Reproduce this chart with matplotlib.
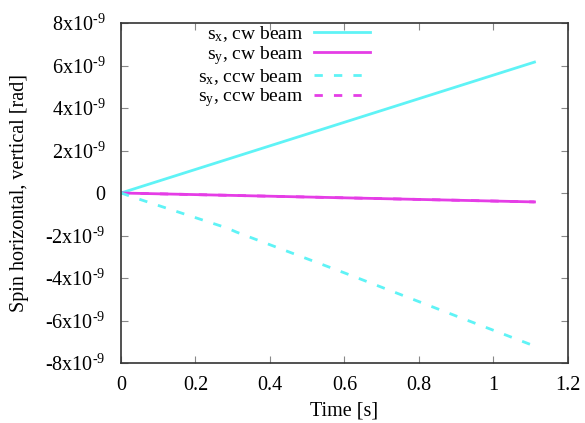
import matplotlib
matplotlib.use("Agg")
import matplotlib.pyplot as plt
from matplotlib.ticker import FuncFormatter

plt.rcParams['font.family'] = ['Liberation Serif', 'DejaVu Serif']
plt.rcParams['mathtext.fontset'] = 'custom'
plt.rcParams['mathtext.rm'] = 'Liberation Serif'
plt.rcParams['mathtext.it'] = 'Liberation Serif:italic'
plt.rcParams['axes.unicode_minus'] = False

# data
t_cw = [0.0, 1.11]
sx_cw = [0.0, 6.16e-9]
sy_cw = [0.0, -0.42e-9]
t_ccw = [0.0, 0.04, 0.285, 0.31, 0.6, 0.9, 1.11]
sx_ccw = [0.0, -0.24e-9, -1.65e-9, -1.84e-9, -3.76e-9, -5.79e-9, -7.2e-9]
t_ccw_y = [0.0, 1.11]
sy_ccw = [0.0, -0.42e-9]

labels = ['s$_\\mathrm{x}$, cw beam', 's$_\\mathrm{y}$, cw beam',
          's$_\\mathrm{x}$, ccw beam', 's$_\\mathrm{y}$, ccw beam']
xticks = [0, 0.2, 0.4, 0.6, 0.8, 1, 1.2]
yticks = [-8e-9, -6e-9, -4e-9, -2e-9, 0, 2e-9, 4e-9, 6e-9, 8e-9]

cyan = '#5ff3f6'
magenta = '#e53de6'
FS = 14.5

fig = plt.figure(figsize=(5.85, 4.23), dpi=100)
ax = fig.add_axes([121/585, 1-363/423, (568-121)/585, (363-23)/423])

lw = 2.0
ax.plot(t_cw, sx_cw, color=cyan, lw=lw, label=labels[0])
ax.plot(t_cw, sy_cw, color=magenta, lw=lw, label=labels[1])
ax.plot(t_ccw, sx_ccw, color=cyan, lw=lw, ls=(0, (3, 4)), label=labels[2])
ax.plot(t_ccw_y, sy_ccw, color=magenta, lw=lw, ls=(0, (3, 4)), label=labels[3], zorder=1)

ax.set_xlim(0, 1.2)
ax.set_ylim(-8e-9, 8e-9)
ax.set_xticks(xticks)
ax.set_yticks(yticks)


def xfmt(v, pos):
    return '%g' % v


def yfmt(v, pos):
    if abs(v) < 1e-15:
        return '0'
    m = int(round(v / 1e-9))
    s = '-' if m < 0 else ''
    return '%s%dx10$^{\\mathrm{\u2010}9}$' % (s, abs(m))


ax.xaxis.set_major_formatter(FuncFormatter(xfmt))
ax.yaxis.set_major_formatter(FuncFormatter(yfmt))
ax.tick_params(direction='in', top=True, right=True, length=5, width=0.8,
               labelsize=FS, color='#888888')
ax.tick_params(axis='x', pad=9)
ax.tick_params(axis='y', pad=11)
for s in ax.spines.values():
    s.set_linewidth(1.2)
    s.set_color('#333333')

ax.set_xlabel('Time [s]', fontsize=FS, labelpad=5)
ax.set_ylabel('Spin horizontal, vertical [rad]', fontsize=FS, labelpad=12)

leg = ax.legend(loc='upper right', bbox_to_anchor=(370/585, 1-24/423),
                bbox_transform=fig.transFigure, frameon=False, markerfirst=False,
                borderaxespad=0, borderpad=0, handlelength=2.9,
                handletextpad=0.55, labelspacing=0.0, fontsize=14)
for txt in leg.get_texts():
    txt.set_ha('right')

fig.savefig('out.png', dpi=100)
